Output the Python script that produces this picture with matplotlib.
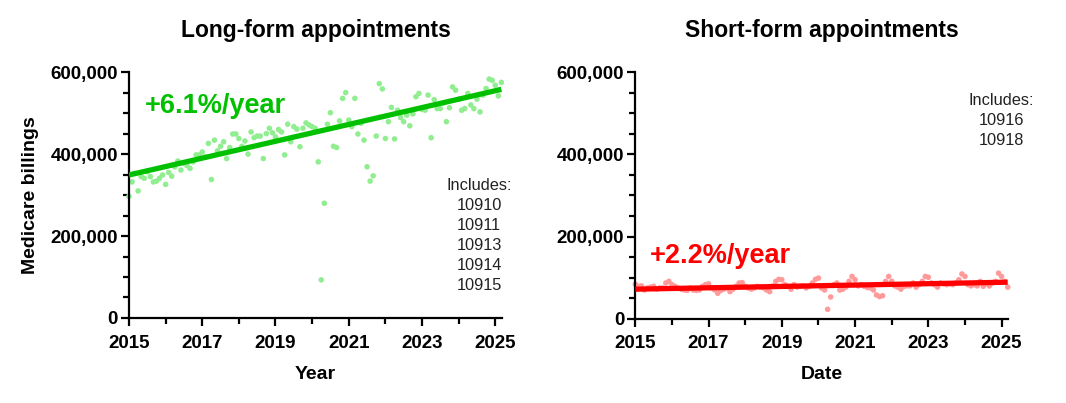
import numpy as np
import matplotlib
matplotlib.use("Agg")
import matplotlib.pyplot as plt
from matplotlib.ticker import MultipleLocator, FixedLocator, FuncFormatter

plt.rcParams['font.family'] = ['Liberation Sans', 'DejaVu Sans']

# ---- data (monthly, Jan 2015 .. Mar 2025) ----
start_year = 2015
long_form = [297, 332, 353, 310, 345, 341, 357, 345, 332, 334, 341, 349,
             326, 355, 346, 369, 383, 361, 377, 372, 365, 381, 398, 398,
             405, 393, 426, 338, 434, 408, 419, 430, 389, 416, 449, 449,
             438, 419, 432, 400, 454, 440, 444, 444, 389, 450, 463, 452,
             442, 460, 454, 398, 473, 430, 467, 461, 418, 463, 476, 471,
             467, 463, 381, 93, 280, 473, 501, 419, 416, 481, 536, 550,
             483, 467, 536, 449, 475, 434, 369, 334, 347, 444, 572, 559,
             438, 479, 514, 437, 507, 489, 479, 495, 469, 498, 540, 548,
             509, 507, 544, 440, 533, 511, 511, 525, 479, 513, 564, 556,
             534, 507, 511, 548, 520, 511, 534, 503, 544, 560, 583, 580,
             568, 542, 575]
short_form = [84, 79, 80, 70, 75, 77, 79, 72, 75, 75, 87, 91,
              83, 79, 75, 72, 70, 69, 75, 70, 69, 70, 79, 83,
              85, 75, 70, 62, 69, 72, 75, 66, 72, 79, 87, 88,
              79, 75, 72, 75, 79, 77, 75, 70, 66, 80, 91, 96,
              95, 83, 79, 72, 83, 77, 79, 80, 75, 79, 87, 96,
              99, 75, 70, 23, 53, 83, 87, 70, 72, 77, 91, 103,
              95, 80, 83, 79, 76, 75, 70, 58, 54, 56, 91, 103,
              91, 80, 77, 72, 79, 80, 80, 87, 77, 83, 91, 103,
              101, 87, 83, 77, 87, 85, 83, 85, 83, 87, 95, 109,
              103, 83, 80, 83, 80, 91, 79, 85, 80, 87, 91, 111,
              103, 91, 77]
long_trend = [349, 558]    # trend line value at first and last month (thousands)
short_trend = [72, 89]
long_rate = "+6.1%/year"
short_rate = "+2.2%/year"
long_codes = ["10910", "10911", "10913", "10914", "10915"]
short_codes = ["10916", "10918"]
titles = ["Long-form appointments", "Short-form appointments"]
xlabels = ["Year", "Date"]
ylabel = "Medicare billings"
year_ticks = [2015, 2017, 2019, 2021, 2023, 2025]

n = len(long_form)
dates = start_year + np.arange(n) / 12.0
long_vals = np.array(long_form) * 1000
short_vals = np.array(short_form) * 1000

fig = plt.figure(figsize=(10.66, 4.03), dpi=100)
ax1 = fig.add_axes([0.121, 0.211, 0.350, 0.610])
ax2 = fig.add_axes([0.596, 0.209, 0.350, 0.612])

green_line = '#00C000'
green_pts = '#90EE90'
red_line = '#FF0000'
red_pts = '#FF9A9A'

def style(ax, title, xlabel):
    ax.set_xlim(2015, dates[-1] + 0.02)
    ax.set_ylim(0, 600000)
    for s in ['top', 'right']:
        ax.spines[s].set_visible(False)
    for s in ['left', 'bottom']:
        ax.spines[s].set_linewidth(1.6)
    ax.xaxis.set_major_locator(FixedLocator(year_ticks))
    ax.xaxis.set_minor_locator(MultipleLocator(1))
    ax.yaxis.set_major_locator(MultipleLocator(200000))
    ax.yaxis.set_minor_locator(MultipleLocator(50000))
    ax.yaxis.set_major_formatter(FuncFormatter(lambda v, p: f"{int(v):,}"))
    ax.xaxis.set_major_formatter(FuncFormatter(lambda v, p: f"{int(round(v))}"))
    ax.tick_params(which='major', direction='out', length=6, width=1.6,
                   labelsize=13.5, pad=2)
    ax.tick_params(axis='x', which='major', pad=6)
    ax.tick_params(which='minor', direction='out', length=4, width=1.6)
    for lab in ax.get_xticklabels() + ax.get_yticklabels():
        lab.set_fontweight('bold')
    ax.set_title(title, fontsize=16.5, fontweight='bold', pad=25)
    ax.set_xlabel(xlabel, fontsize=14, fontweight='bold', labelpad=10)

# Left panel
ax1.scatter(dates, long_vals, s=16, color=green_pts, edgecolors='none', zorder=2,
            clip_on=False)
ax1.plot([dates[0], dates[-1]], np.array(long_trend) * 1000, color=green_line,
         lw=3.8, solid_capstyle='butt', zorder=3)
style(ax1, titles[0], xlabels[0])
ax1.set_ylabel(ylabel, fontsize=14, fontweight='bold', labelpad=8)
ax1.text(2015.44, 500000, long_rate, color=green_line, fontsize=19.5,
         fontweight='bold', ha='left', va='baseline')
ax1.text(2024.56, 342000, "Includes:\n" + "\n".join(long_codes), fontsize=11.8,
         ha='center', va='top', multialignment='center', linespacing=1.42,
         color='#222222')

# Right panel
ax2.scatter(dates, short_vals, s=16, color=red_pts, edgecolors='none', zorder=2,
            clip_on=False)
ax2.plot([dates[0], dates[-1]], np.array(short_trend) * 1000, color=red_line,
         lw=3.8, solid_capstyle='butt', zorder=3)
style(ax2, titles[1], xlabels[1])
ax2.text(2015.41, 136000, short_rate, color=red_line, fontsize=19.5,
         fontweight='bold', ha='left', va='baseline')
ax2.text(2025.0, 549000, "Includes:\n" + "\n".join(short_codes), fontsize=11.8,
         ha='center', va='top', multialignment='center', linespacing=1.42,
         color='#222222')

fig.savefig("out.png", dpi=100)
